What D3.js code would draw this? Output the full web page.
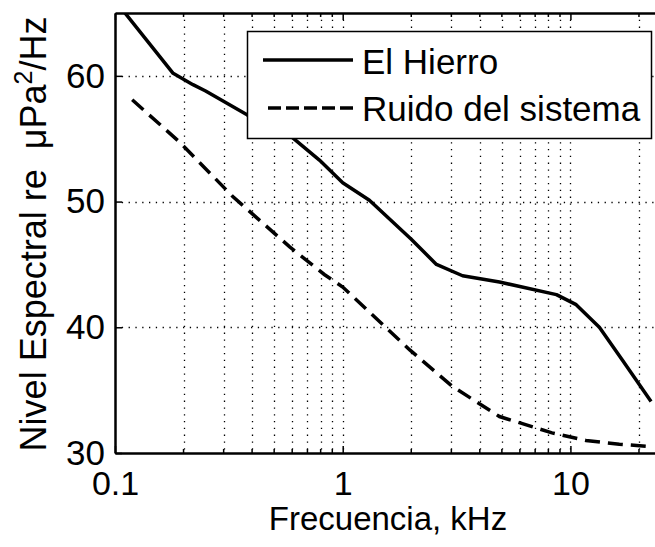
<!DOCTYPE html>
<html>
<head>
<meta charset="utf-8">
<script src="https://cdn.jsdelivr.net/npm/d3@7"></script>
<style>
  body { margin: 0; background: #fff; }
  svg { display: block; font-family: "Liberation Sans", Arial, sans-serif; }
</style>
</head>
<body>
<svg id="chart" width="655" height="547"></svg>
<script>
// --- data ---
var hierroFreq = [0.10, 0.18, 0.22, 0.25, 0.38, 0.60, 0.79, 1.0, 1.31, 2.0, 2.58, 3.36, 4.88, 8.68, 10.6, 13.4, 16.9, 22.6];
var hierroDb   = [66.0, 60.2, 59.3, 58.8, 56.9, 55.1, 53.3, 51.5, 50.1, 47.0, 45.0, 44.1, 43.6, 42.6, 41.8, 40.0, 37.4, 34.1];

var ruidoFreq = [0.119, 0.193, 0.329, 0.585, 0.83, 1.0, 1.97, 3.03, 4.88, 8.3, 11.7, 16.4, 22.6];
var ruidoDb   = [58.1, 54.7, 50.4, 46.4, 44.2, 43.2, 38.2, 35.3, 32.9, 31.6, 31.0, 30.7, 30.5];

var xTickValues = [0.1, 1, 10];
var xTickLabels = ["0.1", "1", "10"];
var xMinorValues = [0.2, 0.3, 0.4, 0.5, 0.6, 0.7, 0.8, 0.9, 2, 3, 4, 5, 6, 7, 8, 9, 20];
var yTickValues = [30, 40, 50, 60];

var seriesNames = ["El Hierro", "Ruido del sistema"];

// --- layout ---
var svg = d3.select("#chart");
var pLeft = 115, pRight = 657, pTop = 13, pBottom = 453;

var x = d3.scaleLog().domain([0.1, 24]).range([pLeft, pRight]);
var y = d3.scaleLinear().domain([30, 65]).range([pBottom, pTop]);

svg.append("defs").append("clipPath").attr("id", "plotclip")
  .append("rect").attr("x", pLeft).attr("y", pTop)
  .attr("width", pRight - pLeft).attr("height", pBottom - pTop);

// grid (dotted)
var grid = svg.append("g").attr("stroke", "#000").attr("stroke-width", 1.3)
  .attr("stroke-dasharray", "1.3,5.5");
grid.selectAll("line.vx")
  .data(xMinorValues.concat([1, 10]))
  .enter().append("line")
  .attr("x1", d => Math.round(x(d)) + 0.5).attr("x2", d => Math.round(x(d)) + 0.5)
  .attr("y1", pTop).attr("y2", pBottom);
grid.selectAll("line.hy")
  .data([40, 50, 60])
  .enter().append("line")
  .attr("x1", pLeft).attr("x2", pRight)
  .attr("y1", d => Math.round(y(d)) + 0.5).attr("y2", d => Math.round(y(d)) + 0.5);

// axes
var xAxisB = d3.axisBottom(x).tickValues(xTickValues).tickFormat((d, i) => xTickLabels[i])
  .tickSizeInner(-7).tickSizeOuter(0).tickPadding(18);
var gxb = svg.append("g").attr("transform", "translate(0," + pBottom + ")").call(xAxisB);
gxb.selectAll("text").attr("font-size", 34).attr("fill", "#000")
  .attr("font-family", "Liberation Sans, Arial, sans-serif");

var xAxisT = d3.axisTop(x).tickValues(xTickValues).tickFormat("")
  .tickSizeInner(-7).tickSizeOuter(0);
var gxt = svg.append("g").attr("transform", "translate(0," + pTop + ")").call(xAxisT);

// minor ticks top & bottom
[[pBottom, -4], [pTop, 4]].forEach(function(p) {
  svg.append("g").selectAll("line").data(xMinorValues).enter().append("line")
    .attr("x1", d => x(d)).attr("x2", d => x(d))
    .attr("y1", p[0]).attr("y2", p[0] + p[1])
    .attr("stroke", "#000").attr("stroke-width", 1.5);
});

var yAxis = d3.axisLeft(y).tickValues(yTickValues).tickFormat(d3.format("d"))
  .tickSizeInner(-7).tickSizeOuter(0).tickPadding(10);
var gy = svg.append("g").attr("transform", "translate(" + pLeft + ",0)").call(yAxis);
gy.selectAll("text").attr("font-size", 35).attr("fill", "#000")
  .attr("font-family", "Liberation Sans, Arial, sans-serif");

[gxb, gxt, gy].forEach(function(g) {
  g.select(".domain").attr("stroke", "#000").attr("stroke-width", 2.5);
  g.selectAll(".tick line").attr("stroke", "#000").attr("stroke-width", 1.5);
});

// lines
var line = d3.line().x(d => x(d[0])).y(d => y(d[1]));
var plot = svg.append("g").attr("clip-path", "url(#plotclip)");

plot.append("path")
  .datum(d3.zip(hierroFreq, hierroDb))
  .attr("d", line).attr("fill", "none")
  .attr("stroke", "#000").attr("stroke-width", 3.5).attr("stroke-linejoin", "round");

plot.append("path")
  .datum(d3.zip(ruidoFreq, ruidoDb))
  .attr("d", line).attr("fill", "none")
  .attr("stroke", "#000").attr("stroke-width", 3.5)
  .attr("stroke-dasharray", "15,8");

// legend
var lg = svg.append("g");
lg.append("rect").attr("x", 247.5).attr("y", 31.5).attr("width", 404).attr("height", 107)
  .attr("fill", "#fff").attr("stroke", "#000").attr("stroke-width", 1.5);
lg.append("line").attr("x1", 263).attr("x2", 353).attr("y1", 60).attr("y2", 60)
  .attr("stroke", "#000").attr("stroke-width", 3.5);
lg.append("line").attr("x1", 268).attr("x2", 353).attr("y1", 108).attr("y2", 108)
  .attr("stroke", "#000").attr("stroke-width", 3.5).attr("stroke-dasharray", "13,5");
lg.selectAll("text").data(seriesNames).enter().append("text")
  .attr("x", 362).attr("y", (d, i) => 74 + i * 47)
  .attr("font-size", 35).attr("fill", "#000")
  .text(d => d);

// axis labels
svg.append("text")
  .attr("x", (pLeft + 655) / 2 + 3).attr("y", 530)
  .attr("text-anchor", "middle").attr("font-size", 33)
  .text("Frecuencia, kHz");

var yl = svg.append("text")
  .attr("transform", "translate(46,234) rotate(-90)")
  .attr("text-anchor", "middle").attr("font-size", 36);
yl.append("tspan").text("Nivel Espectral re\u00A0\u00A0\u03BCPa");
yl.append("tspan").attr("font-size", 25).attr("dy", -14).text("2");
yl.append("tspan").attr("dy", 14).text("/Hz");
</script>
</body>
</html>
